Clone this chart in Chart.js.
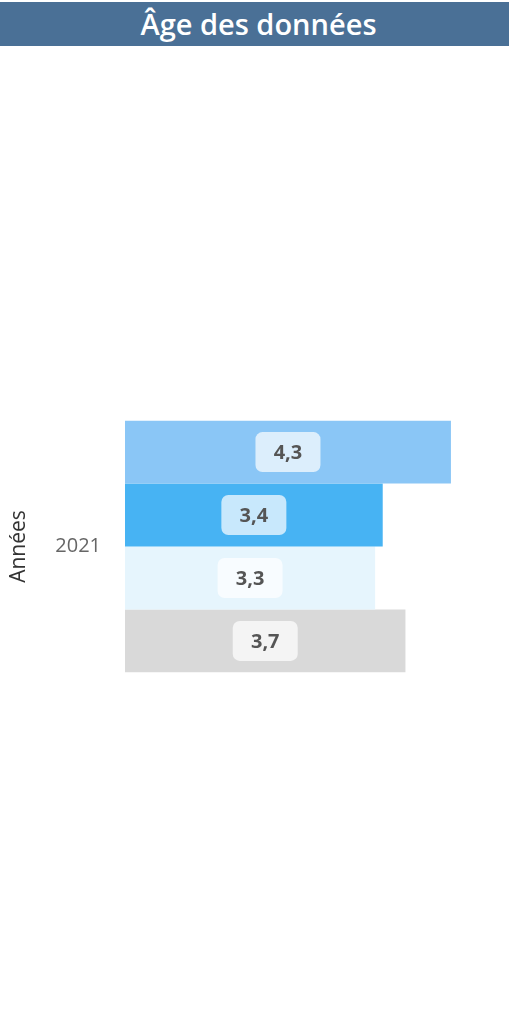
<!DOCTYPE html>
<html>
<head>
<meta charset="utf-8">
<script src="https://cdn.jsdelivr.net/npm/chart.js@4/dist/chart.umd.min.js"></script>
<style>
  html, body { margin: 0; padding: 0; background: #fff; }
  #wrap { position: relative; width: 509px; height: 1032px; }
  #title {
    position: absolute; left: 0; top: 2px; width: 501px; height: 44px; padding-left: 8px;
    background: #4a7096; color: #fff; text-align: center;
    font: 600 29px "Open Sans", sans-serif; line-height: 44px;
  }
  canvas { position: absolute; left: 0; top: 0; }
</style>
</head>
<body>
<div id="wrap">
  <canvas id="chart" width="509" height="1032"></canvas>
  <div id="title">Âge des données</div>
</div>
<script>
const categories = ['2021'];
const seriesNames = ['Série 1', 'Série 2', 'Série 3', 'Série 4'];
const seriesValues = [[4.3], [3.4], [3.3], [3.7]];
const seriesColors = ['#8ac6f6', '#47b3f3', '#e6f5fd', '#d9d9d9'];

const ctx = document.querySelector('#chart').getContext('2d');

const roundRect = (c, x, y, w, h, r) => {
  c.beginPath();
  c.moveTo(x + r, y);
  c.arcTo(x + w, y, x + w, y + h, r);
  c.arcTo(x + w, y + h, x, y + h, r);
  c.arcTo(x, y + h, x, y, r);
  c.arcTo(x, y, x + w, y, r);
  c.closePath();
};

// étiquettes de valeur au centre de chaque barre
const valueLabels = {
  id: 'valueLabels',
  afterDatasetsDraw(chart) {
    const c = chart.ctx;
    c.save();
    c.font = 'bold 20px "Open Sans", sans-serif';
    c.textAlign = 'center';
    c.textBaseline = 'middle';
    chart.data.datasets.forEach((ds, i) => {
      chart.getDatasetMeta(i).data.forEach((bar, j) => {
        const text = ds.data[j].toFixed(1).replace('.', ',');
        const cx = (bar.x + bar.base) / 2;
        const cy = bar.y;
        const w = 65, h = 40;
        c.fillStyle = 'rgba(255,255,255,0.7)';
        roundRect(c, cx - w / 2, cy - h / 2, w, h, 7);
        c.fill();
        c.fillStyle = '#555555';
        c.fillText(text, cx, cy + 1);
      });
    });
    c.restore();
  }
};

new Chart(ctx, {
  type: 'bar',
  data: {
    labels: categories,
    datasets: seriesValues.map((vals, i) => ({
      label: seriesNames[i],
      data: vals,
      backgroundColor: seriesColors[i],
      borderWidth: 0,
      barPercentage: 1,
      categoryPercentage: 0.28,
    })),
  },
  options: {
    indexAxis: 'y',
    responsive: false,
    animation: false,
    layout: { padding: { top: 97, bottom: 0, right: 5, left: 0 } },
    plugins: { legend: { display: false }, tooltip: { enabled: false } },
    scales: {
      x: { display: false, min: 0, max: 5 },
      y: {
        grid: { display: false, drawTicks: false },
        border: { display: false },
        ticks: { color: '#666666', font: { family: 'Open Sans', size: 20 }, padding: 24 },
        title: {
          display: true, text: 'Années', color: '#333333',
          font: { family: 'Open Sans', size: 21 }, padding: { top: 6, bottom: 4 }
        },
        afterFit: (s) => { s.width = 125; },
      },
    },
  },
  plugins: [valueLabels],
});
</script>
</body>
</html>
